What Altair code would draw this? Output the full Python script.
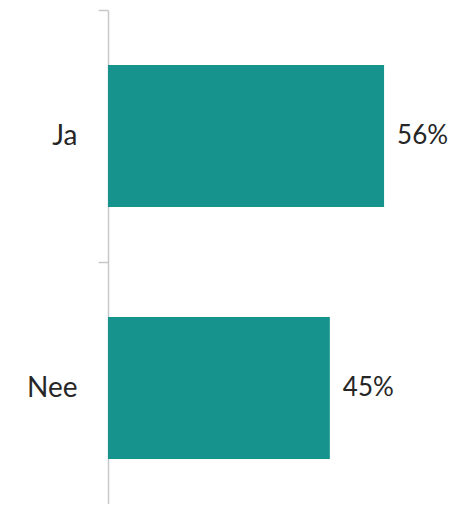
import altair as alt
import pandas as pd

categories = ["Ja", "Nee"]
values = [56, 45]
labels = ["56%", "45%"]

df = pd.DataFrame({"cat": categories, "val": values, "lab": labels})

y = alt.Y("cat:N", sort=categories,
          scale=alt.Scale(paddingInner=0, paddingOuter=0),
          axis=alt.Axis(title=None, tickBand="extent", domainColor="#c8c8c8",
                        tickColor="#c8c8c8", tickSize=10, labelPadding=21,
                        labelFont="Lato", labelFontSize=28, labelColor="#262626",
                        grid=False, domainWidth=1.5, tickWidth=1.5))
x = alt.X("val:Q", scale=alt.Scale(domain=[0, 71.2], nice=False), axis=None)

bars = alt.Chart(df).mark_bar(color="#17938E", size=142).encode(x=x, y=y)
text = alt.Chart(df).mark_text(align="left", dx=13, font="Lato", fontSize=26,
                               color="#262626", baseline="middle").encode(
    x=x, y=y, text="lab:N")

chart = (bars + text).properties(
    width=351, height=504,
    autosize=alt.AutoSizeParams(type="none"),
    padding={"top": 2, "left": 100, "right": -8, "bottom": -10},
).configure_view(stroke=None)

chart.save("out.html", embed_options={"renderer": "svg", "actions": False})
